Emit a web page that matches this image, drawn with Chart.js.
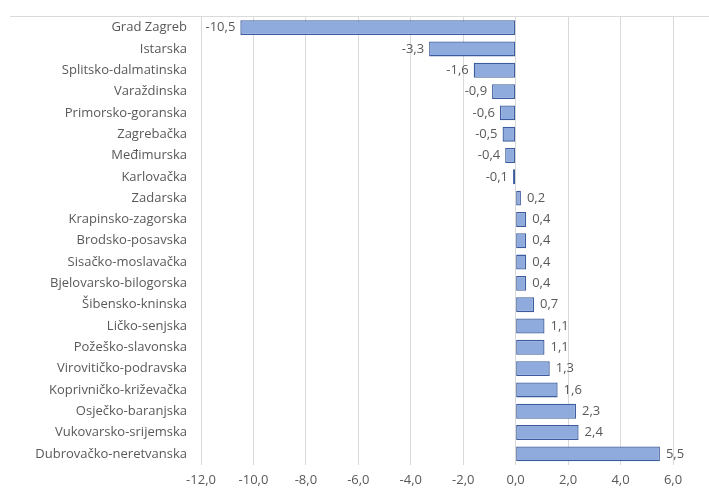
<!DOCTYPE html>
<html>
<head>
<meta charset="utf-8">
<script src="https://cdn.jsdelivr.net/npm/chart.js@4/dist/chart.umd.min.js"></script>
<style>
  html, body { margin: 0; padding: 0; background: #fff; }
  #wrap { width: 709px; height: 488px; position: relative; }
</style>
</head>
<body>
<div id="wrap"><canvas id="c" width="709" height="488"></canvas></div>
<script>
const categories = [
  "Grad Zagreb", "Istarska", "Splitsko-dalmatinska", "Varaždinska",
  "Primorsko-goranska", "Zagrebačka", "Međimurska", "Karlovačka",
  "Zadarska", "Krapinsko-zagorska", "Brodsko-posavska", "Sisačko-moslavačka",
  "Bjelovarsko-bilogorska", "Šibensko-kninska", "Ličko-senjska",
  "Požeško-slavonska", "Virovitičko-podravska", "Koprivničko-križevačka",
  "Osječko-baranjska", "Vukovarsko-srijemska", "Dubrovačko-neretvanska"
];
const values = [
  -10.5, -3.3, -1.6, -0.9, -0.6, -0.5, -0.4, -0.1,
  0.2, 0.4, 0.4, 0.4, 0.4, 0.7, 1.1, 1.1, 1.3, 1.6, 2.3, 2.4, 5.5
];
const xTickValues = [-12, -10, -8, -6, -4, -2, 0, 2, 4, 6];

const FONT = "'Open Sans', sans-serif";
const TXT = "#595959";
const fmt = v => v.toFixed(1).replace(".", ",");

const topLine = {
  id: "topLine",
  beforeDraw(chart) {
    const ctx = chart.ctx, a = chart.chartArea;
    ctx.save();
    ctx.strokeStyle = "#DADADA";
    ctx.lineWidth = 1;
    ctx.beginPath();
    ctx.moveTo(10, Math.round(a.top) - 0.5);
    ctx.lineTo(chart.width, Math.round(a.top) - 0.5);
    ctx.stroke();
    ctx.restore();
  }
};

const dataLabels = {
  id: "dataLabels",
  afterDatasetsDraw(chart) {
    const ctx = chart.ctx;
    const meta = chart.getDatasetMeta(0);
    ctx.save();
    ctx.font = "13px " + FONT;
    ctx.fillStyle = TXT;
    ctx.textBaseline = "middle";
    meta.data.forEach((bar, i) => {
      const v = chart.data.datasets[0].data[i];
      if (v < 0) {
        ctx.textAlign = "right";
        ctx.fillText(fmt(v), bar.x - 5, bar.y);
      } else {
        ctx.textAlign = "left";
        ctx.fillText(fmt(v), bar.x + 6, bar.y);
      }
    });
    ctx.restore();
  }
};

new Chart(document.getElementById("c"), {
  type: "bar",
  data: {
    labels: categories,
    datasets: [{
      data: values,
      backgroundColor: "#8FAADC",
      borderColor: "#3B5C9E",
      borderWidth: 1.3,
      borderSkipped: false,
      barPercentage: 1,
      categoryPercentage: 0.7
    }]
  },
  options: {
    indexAxis: "y",
    responsive: false,
    animation: false,
    layout: { padding: { top: 17, right: 36, left: 0, bottom: 0 } },
    plugins: { legend: { display: false }, tooltip: { enabled: false } },
    scales: {
      x: {
        min: -12, max: 6,
        afterBuildTicks(s) { s.ticks = xTickValues.map(v => ({ value: v })); },
        afterFit(s) { s.height = 23.5; },
        grid: { color: "#D9D9D9", drawTicks: false, lineWidth: 1 },
        border: { display: false },
        ticks: {
          color: TXT, padding: 8,
          font: { family: FONT, size: 13 },
          callback: v => fmt(v)
        }
      },
      y: {
        afterFit(s) { s.width = 201; s.paddingTop = 0; s.paddingBottom = 0; },
        grid: { display: false, drawTicks: false },
        border: { display: false },
        ticks: {
          color: TXT, padding: 14, autoSkip: false,
          font: { family: FONT, size: 13 }
        }
      }
    }
  },
  plugins: [topLine, dataLabels]
});
</script>
</body>
</html>
